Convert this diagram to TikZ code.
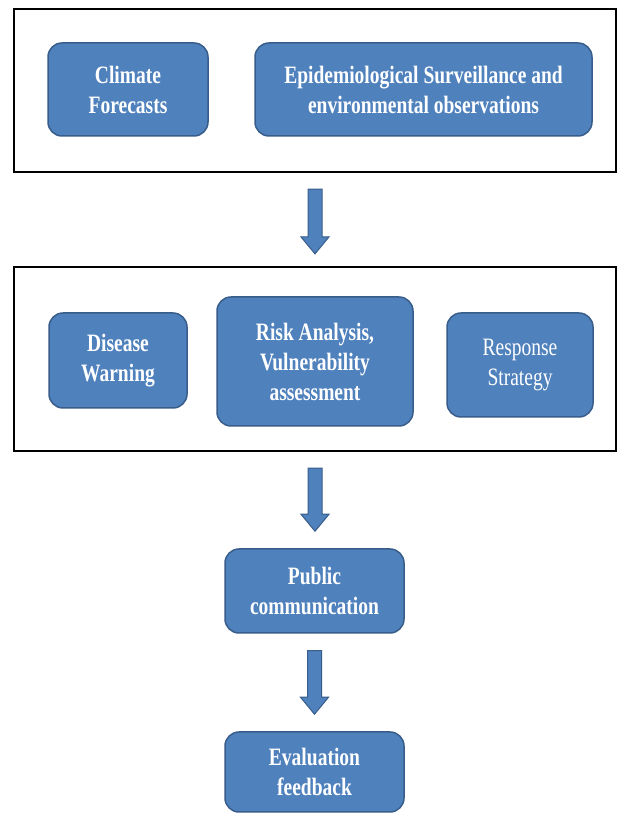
\documentclass[tikz,border=0pt]{standalone}
\usepackage{fontspec}
\setmainfont[FakeStretch=0.78]{Liberation Serif}
\usetikzlibrary{calc}

\definecolor{boxblue}{RGB}{79,129,189}
\definecolor{boxedge}{RGB}{56,93,138}

\tikzset{
  bluebox/.style = {rectangle, rounded corners=14pt, fill=boxblue, draw=boxedge,
                    line width=1.5pt, text=white, align=center, inner sep=0pt,
                    font=\fontsize{25}{30}\selectfont\bfseries},
  framebox/.style = {rectangle, draw=black, line width=2.2pt, inner sep=0pt},
  blockarrow/.style = {fill=boxblue, draw=boxedge, line width=1pt}
}

% block arrow pointing down from #1 to #2
\newcommand{\downblock}[2]{%
  \filldraw[blockarrow] let \p1=(#1), \p2=(#2) in
    (\x1-7pt,\y1) -- (\x1+7pt,\y1) -- (\x1+7pt,\y2+17pt) -- (\x1+14pt,\y2+17pt)
    -- (\x1,\y2) -- (\x1-14pt,\y2+17pt) -- (\x1-7pt,\y2+17pt) -- cycle;}

\begin{document}
\begin{tikzpicture}[x=1pt, y=1pt]
  \useasboundingbox (0,0) rectangle (618,815);
  \fill[white] (0,0) rectangle (618,815);

  % frames
  \node[framebox, minimum width=602pt, minimum height=163pt] (topframe) at (315,724.5) {};
  \node[framebox, minimum width=602pt, minimum height=184pt] (midframe) at (315,456) {};

  % top row
  \node[bluebox, minimum width=160pt, minimum height=93pt] (climate) at (128,725.5)
       {Climate\\Forecasts};
  \node[bluebox, minimum width=337pt, minimum height=93pt] (surveil) at (423.5,725.5)
       {Epidemiological Surveillance and\\environmental observations};

  % middle row
  \node[bluebox, minimum width=138pt, minimum height=95pt] (warning) at (118,454.5)
       {Disease\\Warning};
  \node[bluebox, minimum width=196pt, minimum height=129pt] (risk) at (315,453.5)
       {Risk Analysis,\\Vulnerability\\assessment};
  \node[bluebox, minimum width=146pt, minimum height=104pt,
        font=\fontsize{25}{30}\selectfont] (response) at (520,450)
       {Response\\Strategy};

  % bottom column
  \node[bluebox, minimum width=179pt, minimum height=84pt] (public) at (314.5,224)
       {Public\\communication};
  \node[bluebox, minimum width=179pt, minimum height=80pt] (evaluation) at (314.5,43)
       {Evaluation\\feedback};

  % arrows
  \downblock{[yshift=-16pt]topframe.south}{[yshift=12pt]midframe.north}
  \downblock{[yshift=-16pt]midframe.south}{[yshift=17pt]public.north}
  \downblock{[yshift=-17pt]public.south}{[yshift=17pt]evaluation.north}
\end{tikzpicture}
\end{document}
